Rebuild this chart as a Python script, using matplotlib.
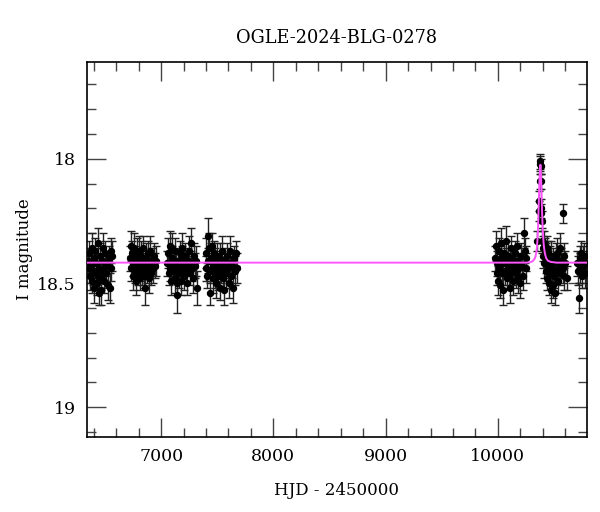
import matplotlib
matplotlib.use("Agg")
import matplotlib.pyplot as plt
from matplotlib.ticker import MultipleLocator, FuncFormatter

TITLE = "OGLE-2024-BLG-0278"

# OGLE I-band photometry (HJD - 2450000, mag, error)
s1_t = [6348, 6355, 6362, 6368, 6375, 6381, 6388, 6394, 6400, 6405, 6411, 6417, 6423, 6428,
        6434, 6440, 6446, 6451, 6457, 6462, 6468, 6473, 6479, 6485, 6491, 6497, 6503, 6510,
        6518, 6527, 6535, 6543, 6550, 6558, 6566]
s1_m = [18.41, 18.44, 18.38, 18.47, 18.43, 18.36, 18.49, 18.45, 18.40, 18.52, 18.37, 18.46,
        18.42, 18.50, 18.34, 18.47, 18.54, 18.44, 18.39, 18.48, 18.53, 18.41, 18.36, 18.45,
        18.49, 18.43, 18.38, 18.46, 18.42, 18.51, 18.40, 18.52, 18.37, 18.44, 18.39]
s1_e = [0.05, 0.06, 0.05, 0.06, 0.05, 0.06, 0.05, 0.06, 0.05, 0.06, 0.05, 0.05, 0.06, 0.05,
        0.06, 0.05, 0.05, 0.06, 0.05, 0.05, 0.06, 0.05, 0.06, 0.05, 0.05, 0.06, 0.05, 0.06,
        0.05, 0.06, 0.05, 0.06, 0.05, 0.05, 0.06]

s2_t = [6722, 6728, 6734, 6740, 6746, 6752, 6758, 6764, 6770, 6776, 6782, 6788, 6794, 6800,
        6806, 6812, 6818, 6824, 6830, 6836, 6842, 6848, 6855, 6862, 6868, 6875, 6882, 6889,
        6896, 6903, 6910, 6918, 6926, 6935, 6944, 6953]
s2_m = [18.40, 18.35, 18.44, 18.38, 18.47, 18.42, 18.36, 18.45, 18.40, 18.49, 18.43, 18.38,
        18.46, 18.41, 18.37, 18.48, 18.44, 18.39, 18.46, 18.42, 18.36, 18.47, 18.52, 18.43,
        18.40, 18.45, 18.38, 18.48, 18.42, 18.37, 18.46, 18.41, 18.44, 18.39, 18.43, 18.41]
s2_e = [0.05, 0.06, 0.05, 0.05, 0.06, 0.05, 0.06, 0.05, 0.05, 0.06, 0.05, 0.06, 0.05, 0.05,
        0.06, 0.05, 0.05, 0.06, 0.05, 0.06, 0.05, 0.05, 0.07, 0.05, 0.06, 0.05, 0.05, 0.06,
        0.05, 0.06, 0.05, 0.05, 0.06, 0.05, 0.05, 0.06]

s3_t = [7055, 7062, 7068, 7075, 7082, 7088, 7095, 7101, 7108, 7114, 7120, 7126, 7132, 7138,
        7145, 7152, 7158, 7164, 7170, 7176, 7182, 7188, 7195, 7201, 7208, 7215, 7222, 7230,
        7238, 7246, 7254, 7262, 7270, 7278, 7286, 7294, 7302, 7310, 7317]
s3_m = [18.42, 18.38, 18.46, 18.35, 18.44, 18.49, 18.40, 18.36, 18.45, 18.42, 18.48, 18.37,
        18.44, 18.50, 18.55, 18.41, 18.46, 18.38, 18.43, 18.49, 18.40, 18.36, 18.45, 18.42,
        18.47, 18.39, 18.44, 18.50, 18.41, 18.37, 18.46, 18.42, 18.34, 18.44, 18.48, 18.39,
        18.43, 18.41, 18.52]
s3_e = [0.05, 0.06, 0.05, 0.06, 0.05, 0.06, 0.05, 0.06, 0.05, 0.05, 0.06, 0.05, 0.06, 0.05,
        0.07, 0.05, 0.06, 0.05, 0.05, 0.06, 0.05, 0.06, 0.05, 0.05, 0.06, 0.05, 0.06, 0.05,
        0.05, 0.06, 0.05, 0.05, 0.06, 0.05, 0.06, 0.05, 0.05, 0.06, 0.07]

s4_t = [7398, 7404, 7410, 7416, 7422, 7428, 7434, 7440, 7446, 7452, 7458, 7464, 7470, 7476,
        7482, 7488, 7494, 7500, 7507, 7514, 7521, 7528, 7535, 7542, 7549, 7556, 7563, 7570,
        7578, 7586, 7594, 7602, 7610, 7618, 7626, 7634, 7642, 7650, 7658, 7666, 7674]
s4_m = [18.44, 18.38, 18.47, 18.41, 18.31, 18.36, 18.54, 18.45, 18.40, 18.35, 18.48, 18.43,
        18.38, 18.46, 18.41, 18.50, 18.44, 18.39, 18.47, 18.42, 18.52, 18.40, 18.45, 18.37,
        18.48, 18.43, 18.53, 18.41, 18.46, 18.39, 18.44, 18.50, 18.42, 18.37, 18.47, 18.43,
        18.52, 18.40, 18.45, 18.38, 18.44]
s4_e = [0.05, 0.06, 0.05, 0.05, 0.07, 0.06, 0.05, 0.05, 0.06, 0.05, 0.06, 0.05, 0.05, 0.06,
        0.05, 0.06, 0.05, 0.05, 0.06, 0.05, 0.05, 0.06, 0.05, 0.06, 0.05, 0.05, 0.06, 0.05,
        0.06, 0.05, 0.05, 0.06, 0.05, 0.06, 0.05, 0.05, 0.06, 0.05, 0.06, 0.05, 0.06]

s5_t = [9978, 9984, 9990, 9996, 10002, 10008, 10014, 10020, 10026, 10032, 10038, 10044, 10050,
        10056, 10062, 10068, 10074, 10080, 10086, 10092, 10098, 10104, 10110, 10116, 10122,
        10128, 10135, 10142, 10150, 10158, 10166, 10174, 10182, 10190, 10198, 10206, 10214,
        10222, 10230, 10238, 10246, 10254]
s5_m = [18.40, 18.35, 18.46, 18.42, 18.49, 18.37, 18.44, 18.51, 18.40, 18.34, 18.46, 18.42,
        18.53, 18.38, 18.45, 18.41, 18.33, 18.48, 18.43, 18.39, 18.47, 18.52, 18.41, 18.36,
        18.45, 18.40, 18.49, 18.43, 18.38, 18.46, 18.41, 18.35, 18.48, 18.44, 18.50, 18.39,
        18.43, 18.47, 18.30, 18.37, 18.44, 18.40]
s5_e = [0.05, 0.06, 0.05, 0.05, 0.06, 0.05, 0.06, 0.05, 0.05, 0.06, 0.05, 0.05, 0.06, 0.05,
        0.06, 0.05, 0.06, 0.05, 0.05, 0.06, 0.05, 0.06, 0.05, 0.05, 0.06, 0.05, 0.06, 0.05,
        0.05, 0.06, 0.05, 0.05, 0.06, 0.05, 0.06, 0.05, 0.05, 0.06, 0.06, 0.05, 0.06, 0.05]

s6_t = [10352, 10364, 10368, 10372, 10376, 10378, 10380, 10383, 10386, 10388, 10391, 10395,
        10400, 10405, 10410, 10415, 10420, 10425, 10430, 10435, 10440, 10445, 10450, 10455,
        10460, 10465, 10470, 10476, 10482, 10488, 10494, 10500, 10507, 10514, 10521, 10528,
        10535, 10542, 10549, 10556, 10563, 10577, 10578, 10585, 10593, 10602, 10612]
s6_m = [18.33, 18.17, 18.21, 18.09, 18.01, 18.02, 18.03, 18.09, 18.20, 18.22, 18.25, 18.33,
        18.36, 18.39, 18.34, 18.42, 18.37, 18.45, 18.40, 18.36, 18.48, 18.43, 18.38, 18.50,
        18.41, 18.46, 18.53, 18.39, 18.44, 18.51, 18.42, 18.47, 18.54, 18.40, 18.45, 18.38,
        18.49, 18.43, 18.36, 18.46, 18.41, 18.44, 18.22, 18.39, 18.47, 18.42, 18.48]
s6_e = [0.04, 0.04, 0.04, 0.03, 0.03, 0.03, 0.03, 0.03, 0.04, 0.04, 0.04, 0.05,
        0.05, 0.05, 0.05, 0.06, 0.05, 0.05, 0.06, 0.05, 0.05, 0.06, 0.05, 0.05,
        0.06, 0.05, 0.05, 0.06, 0.05, 0.05, 0.06, 0.05, 0.05, 0.06, 0.05, 0.06,
        0.05, 0.05, 0.06, 0.05, 0.05, 0.06, 0.04, 0.05, 0.06, 0.05, 0.05]

s7_t = [10705, 10712, 10720, 10727, 10734, 10741, 10748, 10755, 10762, 10770, 10778, 10786]
s7_m = [18.42, 18.45, 18.56, 18.40, 18.44, 18.38, 18.47, 18.41, 18.43, 18.39, 18.46, 18.42]
s7_e = [0.05, 0.06, 0.06, 0.05, 0.06, 0.05, 0.05, 0.06, 0.05, 0.05, 0.06, 0.05]

# microlensing model curve
model_t = [6340, 10250, 10290, 10310, 10325, 10335, 10345, 10352, 10358, 10364, 10369,
           10374, 10379, 10384, 10389, 10394, 10400, 10408, 10418, 10430, 10445, 10470,
           10520, 10790]
model_m = [18.418, 18.418, 18.416, 18.412, 18.404, 18.394, 18.37, 18.33, 18.27, 18.18,
           18.10, 18.05, 18.024, 18.06, 18.14, 18.22, 18.29, 18.345, 18.38, 18.40, 18.41,
           18.415, 18.418, 18.418]

seasons = [(s1_t, s1_m, s1_e), (s2_t, s2_m, s2_e), (s3_t, s3_m, s3_e), (s4_t, s4_m, s4_e),
           (s5_t, s5_m, s5_e), (s6_t, s6_m, s6_e), (s7_t, s7_m, s7_e)]


def mag_label(v, pos):
    return "%g" % round(v, 2)


def main():
    plt.rcParams["font.family"] = "DejaVu Serif"
    fig = plt.figure(figsize=(6.0, 5.12), dpi=100)
    ax = fig.add_axes([0.145, 0.1465, 0.833, 0.7325])

    for t, m, e in seasons:
        ax.errorbar(t, m, yerr=e, fmt="o", color="black", ecolor="#222222",
                    markersize=4.3, elinewidth=1.0, capsize=3, capthick=1.0, zorder=2)

    ax.plot(model_t, model_m, color="#ff55ff", lw=1.4, zorder=3)

    ax.set_xlim(6340, 10792)
    ax.set_ylim(19.12, 17.61)

    ax.xaxis.set_major_locator(MultipleLocator(1000))
    ax.xaxis.set_minor_locator(MultipleLocator(200))
    ax.yaxis.set_major_locator(MultipleLocator(0.5))
    ax.yaxis.set_minor_locator(MultipleLocator(0.1))
    ax.yaxis.set_major_formatter(FuncFormatter(mag_label))
    ax.tick_params(which="both", direction="in", top=True, right=True,
                   color="#444444", width=1.0, labelsize=12.5)
    ax.tick_params(which="major", length=13.5, pad=8)
    ax.tick_params(which="minor", length=6.8)
    for sp in ax.spines.values():
        sp.set_linewidth(1.2)

    ax.set_xlabel("HJD - 2450000", fontsize=12, labelpad=12)
    ax.set_ylabel("I magnitude", fontsize=12, labelpad=3)
    ax.set_title(TITLE, fontsize=12.8, pad=14)

    fig.savefig("out.png")


if __name__ == "__main__":
    main()
